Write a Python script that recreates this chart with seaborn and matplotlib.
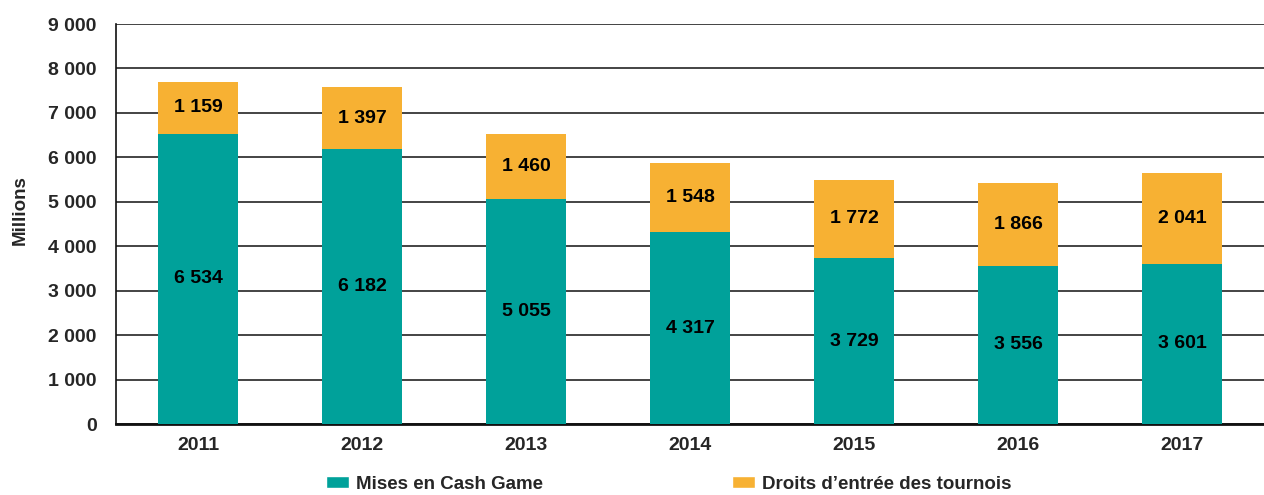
import pandas as pd
import numpy as np
import matplotlib.pyplot as plt
import seaborn as sns
from matplotlib.ticker import FuncFormatter, MultipleLocator
from matplotlib.patches import Patch

years = ['2011', '2012', '2013', '2014', '2015', '2016', '2017']
cash_game = [6534, 6182, 5055, 4317, 3729, 3556, 3601]
tournois = [1159, 1397, 1460, 1548, 1772, 1866, 2041]

TEAL = '#00A19A'
ORANGE = '#F7B133'

df = pd.DataFrame({'annee': years, 'cash': cash_game, 'tournoi': tournois})
df['total'] = df['cash'] + df['tournoi']

sns.set_theme(style='white')
plt.rcParams['font.family'] = ['Liberation Sans', 'DejaVu Sans']
plt.rcParams['font.weight'] = 'bold'

fig = plt.figure(figsize=(12.64, 4.95), dpi=100)
ax = fig.add_axes([0.0918, 0.1434, 0.9082, 0.8081])

# stacked: total first (orange), then cash game on top (teal)
sns.barplot(data=df, x='annee', y='total', color=ORANGE, width=0.485,
            saturation=1, linewidth=0, ax=ax, zorder=2)
sns.barplot(data=df, x='annee', y='cash', color=TEAL, width=0.485,
            saturation=1, linewidth=0, ax=ax, zorder=3)

def fmt(v):
    return f'{v:,.0f}'.replace(',', ' ')

for i, row in df.iterrows():
    ax.text(i, row['cash'] / 2, fmt(row['cash']), ha='center', va='center',
            fontsize=14, fontweight='bold', color='black', zorder=4)
    ax.text(i, row['cash'] + row['tournoi'] / 2, fmt(row['tournoi']),
            ha='center', va='center', fontsize=14, fontweight='bold',
            color='black', zorder=4)

ax.set_ylim(0, 9000)
ax.set_xlim(-0.5, 6.5)
ax.yaxis.set_major_locator(MultipleLocator(1000))
ax.yaxis.set_major_formatter(FuncFormatter(lambda v, p: fmt(v)))
ax.yaxis.grid(True, color='#111111', lw=1.1, zorder=0)
ax.set_axisbelow(True)

for s in ['top', 'right']:
    ax.spines[s].set_visible(False)
ax.spines['left'].set_color('#111111')
ax.spines['left'].set_linewidth(1.2)
ax.spines['bottom'].set_color('#111111')
ax.spines['bottom'].set_linewidth(2)

ax.tick_params(axis='y', length=0, pad=14, labelsize=14)
ax.tick_params(axis='x', length=0, pad=9, labelsize=14)
for lab in ax.get_xticklabels() + ax.get_yticklabels():
    lab.set_fontweight('bold')

ax.set_xlabel('')
ax.set_ylabel('Millions', fontsize=13.5, fontweight='bold')
ax.yaxis.set_label_coords(-0.0763, 0.535)

handles = [Patch(facecolor=TEAL, label='Mises en Cash Game'),
           Patch(facecolor=ORANGE, label="Droits d\u2019entrée des tournois")]
fig.legend(handles=handles, loc='lower center', ncol=2, frameon=False,
           bbox_to_anchor=(0.529, -0.03), columnspacing=10.1,
           handlelength=1.23, handleheight=0.59, handletextpad=0.37,
           prop={'weight': 'bold', 'size': 13.5})

fig.savefig('out.png', dpi=100)
